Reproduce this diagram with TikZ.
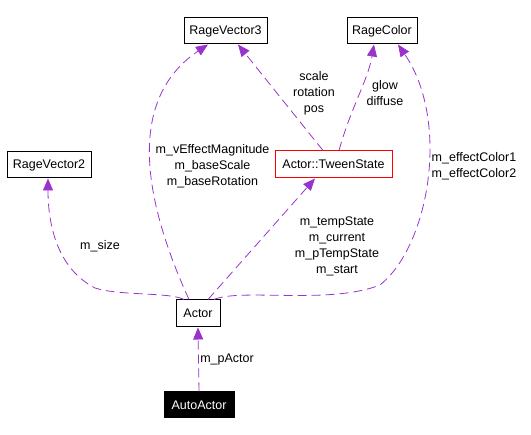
\documentclass[tikz,border=0pt]{standalone}
\usepackage{fontspec}
\setmainfont{Liberation Sans}
\usetikzlibrary{arrows.meta}
\definecolor{edgecol}{HTML}{9A32CD}
\begin{document}
\begin{tikzpicture}[x=1pt,y=-1pt,>={Triangle[length=12pt,width=10pt]},
	every node/.style={font=\fontsize{12.5}{16}\selectfont},
	cls/.style={draw=black,line width=1pt,inner sep=0pt,minimum height=26pt},
	edge/.style={->,draw=edgecol,line width=0.8pt,dash pattern=on 9pt off 5pt},
	lbl/.style={align=center,inner sep=0pt}]
\useasboundingbox (0,0) rectangle (531,435);
% classes
\node[cls,minimum width=83pt] (rv3) at (225.5,31) {RageVector3};
\node[cls,minimum width=70pt] (rc) at (382,31) {RageColor};
\node[cls,minimum width=84pt] (rv2) at (49,165) {RageVector2};
\node[cls,draw=red,minimum width=117pt,minimum height=27pt] (ts) at (333.5,164.5) {Actor::TweenState};
\node[cls,minimum width=44pt,minimum height=27pt] (actor) at (198,313.5) {Actor};
\node[cls,fill=black,text=white,minimum width=70pt] (auto) at (199,405) {AutoActor};
% members
\draw[edge] ([xshift=-9pt]actor.north) .. controls (130,170) and (140,90) .. ([xshift=-17.5pt]rv3.south);
\draw[edge] ([xshift=-10.5pt]ts.north) -- ([xshift=12.5pt]rv3.south);
\draw[edge] ([xshift=5.5pt]ts.north) .. controls (350,110) and (368,80) .. ([xshift=-8pt]rc.south);
\draw[edge] ([xshift=16pt]actor.north) .. controls (240,288) and (330,305) .. (380,285)
	.. controls (430,245) and (450,120) .. ([xshift=16pt]rc.south);
\draw[edge] ([xshift=-14pt]actor.north) .. controls (170,292) and (120,296) .. (95,288)
	.. controls (60,270) and (48,230) .. ([xshift=-1pt]rv2.south);
\draw[edge] ([xshift=10pt]actor.north) -- ([xshift=-18.5pt]ts.south);
\draw[edge] (auto.north) -- (actor.south);
% labels
\node[lbl] (l1) at (212.5,166) {m\_vEffectMagnitude\\m\_baseScale\\m\_baseRotation};
\node[lbl] (l2) at (314,93) {scale\\rotation\\pos};
\node[lbl] (l3) at (385,93) {glow\\diffuse};
\node[lbl] (l4) at (474,166) {m\_effectColor1\\m\_effectColor2};
\node[lbl] (l5) at (337,246) {m\_tempState\\m\_current\\m\_pTempState\\m\_start};
\node[lbl] (l6) at (100,246) {m\_size};
\node[lbl] (l7) at (227,360) {m\_pActor};
\end{tikzpicture}
\end{document}
